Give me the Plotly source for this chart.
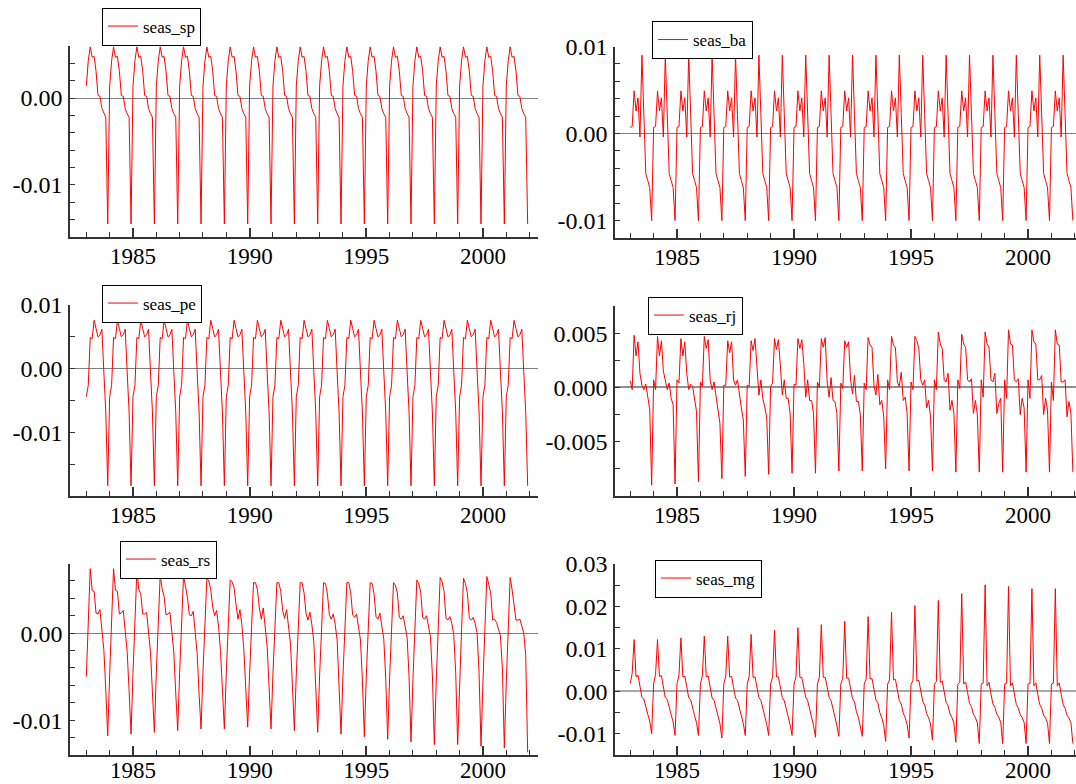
import plotly.graph_objects as go

# ---------------- data (seasonal factors, monthly 1983:1 - 2001:12) ----------------
years = list(range(1983, 2002))

# constant seasonal patterns (Jan..Dec)
sp_month = [0.0014, 0.0043, 0.0059, 0.0047, 0.0048, 0.0031, 0.0003, 0.0002, -0.0012, -0.0018, -0.0022, -0.0145]
ba_month = [0.0007, 0.0008, 0.0049, 0.0026, 0.0041, -0.0004, 0.0090, 0.0022, -0.0046, -0.0054, -0.0062, -0.0100]
pe_month = [-0.0044, -0.0026, 0.0049, 0.0047, 0.0076, 0.0063, 0.0050, 0.0053, 0.0062, -0.0005, -0.0068, -0.0184]

# evolving seasonal patterns, one row per year (Jan..Dec)
rj_rows = [
    [0.0006, -0.0002, 0.0048, 0.0029, 0.0042, 0.0013, 0.0002, -0.0002, 0.0003, -0.0009, -0.0020, -0.0090],
    [0.0007, -0.0002, 0.0047, 0.0029, 0.0043, 0.0015, 0.0005, -0.0002, 0.0004, -0.0010, -0.0016, -0.0089],
    [0.0007, 0.0004, 0.0045, 0.0029, 0.0042, 0.0013, -0.0002, 0.0003, 0.0001, -0.0011, -0.0022, -0.0087],
    [0.0005, 0.0001, 0.0047, 0.0036, 0.0044, 0.0007, -0.0002, 0.0005, -0.0008, -0.0021, -0.0033, -0.0084],
    [0.0002, 0.0002, 0.0043, 0.0032, 0.0042, 0.0007, 0.0002, 0.0007, -0.0008, -0.0019, -0.0030, -0.0082],
    [0.0002, 0.0001, 0.0043, 0.0034, 0.0045, 0.0016, -0.0007, 0.0007, -0.0010, -0.0018, -0.0028, -0.0080],
    [0.0001, 0.0004, 0.0045, 0.0035, 0.0044, 0.0020, -0.0007, 0.0007, -0.0010, -0.0010, -0.0024, -0.0079],
    [0.0003, 0.0002, 0.0045, 0.0036, 0.0044, 0.0022, -0.0009, 0.0007, -0.0012, -0.0012, -0.0024, -0.0079],
    [0.0005, 0.0000, 0.0045, 0.0037, 0.0046, 0.0005, -0.0009, 0.0009, -0.0012, -0.0013, -0.0024, -0.0077],
    [0.0004, -0.0001, 0.0043, 0.0037, 0.0042, 0.0007, -0.0006, 0.0011, -0.0013, -0.0013, -0.0025, -0.0077],
    [0.0004, -0.0002, 0.0046, 0.0039, 0.0037, 0.0002, -0.0007, 0.0012, -0.0016, -0.0012, -0.0027, -0.0075],
    [0.0007, -0.0002, 0.0047, 0.0039, 0.0037, 0.0005, 0.0001, 0.0014, -0.0012, -0.0009, -0.0024, -0.0077],
    [0.0005, -0.0002, 0.0047, 0.0043, 0.0036, 0.0007, 0.0002, 0.0007, -0.0019, -0.0012, -0.0027, -0.0077],
    [0.0007, -0.0002, 0.0051, 0.0040, 0.0036, 0.0007, 0.0005, 0.0013, -0.0021, -0.0012, -0.0024, -0.0078],
    [0.0007, -0.0001, 0.0049, 0.0040, 0.0037, 0.0007, 0.0005, 0.0008, -0.0024, -0.0012, -0.0025, -0.0078],
    [0.0007, -0.0009, 0.0051, 0.0040, 0.0037, 0.0007, 0.0005, 0.0013, -0.0024, -0.0015, -0.0010, -0.0078],
    [0.0007, -0.0010, 0.0053, 0.0040, 0.0039, 0.0007, 0.0005, 0.0008, -0.0025, -0.0010, -0.0019, -0.0078],
    [0.0007, -0.0010, 0.0053, 0.0042, 0.0040, 0.0007, 0.0007, 0.0011, -0.0025, -0.0010, -0.0021, -0.0078],
    [0.0005, -0.0012, 0.0053, 0.0040, 0.0039, 0.0005, 0.0005, 0.0007, -0.0027, -0.0013, -0.0024, -0.0078],
]

rs_rows = [
    [-0.0050, 0.0010, 0.0074, 0.0049, 0.0048, 0.0023, 0.0022, 0.0027, 0.0006, -0.0019, -0.0065, -0.0118],
    [-0.0047, 0.0012, 0.0074, 0.0049, 0.0048, 0.0022, 0.0023, 0.0026, 0.0005, -0.0021, -0.0066, -0.0116],
    [-0.0046, 0.0012, 0.0072, 0.0050, 0.0045, 0.0022, 0.0022, 0.0024, 0.0004, -0.0022, -0.0068, -0.0114],
    [-0.0045, 0.0011, 0.0067, 0.0051, 0.0042, 0.0021, 0.0022, 0.0024, 0.0003, -0.0022, -0.0069, -0.0112],
    [-0.0045, 0.0011, 0.0066, 0.0054, 0.0041, 0.0021, 0.0020, 0.0025, 0.0003, -0.0023, -0.0070, -0.0110],
    [-0.0044, 0.0010, 0.0063, 0.0060, 0.0050, 0.0030, 0.0020, 0.0026, 0.0008, -0.0020, -0.0068, -0.0110],
    [-0.0045, 0.0009, 0.0061, 0.0059, 0.0052, 0.0033, 0.0016, 0.0027, 0.0010, -0.0018, -0.0066, -0.0108],
    [-0.0045, 0.0009, 0.0058, 0.0058, 0.0050, 0.0029, 0.0016, 0.0029, 0.0008, -0.0015, -0.0062, -0.0110],
    [-0.0046, 0.0008, 0.0058, 0.0058, 0.0048, 0.0026, 0.0017, 0.0027, 0.0008, -0.0012, -0.0060, -0.0112],
    [-0.0047, 0.0008, 0.0058, 0.0058, 0.0046, 0.0023, 0.0015, 0.0024, 0.0010, -0.0010, -0.0058, -0.0114],
    [-0.0048, 0.0007, 0.0058, 0.0057, 0.0045, 0.0021, 0.0016, 0.0022, 0.0010, -0.0008, -0.0056, -0.0116],
    [-0.0049, 0.0007, 0.0058, 0.0058, 0.0046, 0.0021, 0.0018, 0.0022, 0.0008, -0.0008, -0.0054, -0.0119],
    [-0.0050, 0.0006, 0.0058, 0.0057, 0.0045, 0.0019, 0.0016, 0.0023, 0.0008, -0.0007, -0.0052, -0.0122],
    [-0.0051, 0.0006, 0.0058, 0.0055, 0.0046, 0.0018, 0.0016, 0.0020, 0.0009, -0.0005, -0.0050, -0.0125],
    [-0.0053, 0.0005, 0.0061, 0.0057, 0.0047, 0.0018, 0.0016, 0.0020, 0.0010, -0.0004, -0.0048, -0.0128],
    [-0.0054, 0.0005, 0.0064, 0.0059, 0.0048, 0.0017, 0.0015, 0.0019, 0.0011, -0.0002, -0.0046, -0.0128],
    [-0.0055, 0.0004, 0.0063, 0.0057, 0.0046, 0.0017, 0.0015, 0.0018, 0.0011, 0.0000, -0.0045, -0.0130],
    [-0.0056, 0.0004, 0.0065, 0.0056, 0.0046, 0.0015, 0.0016, 0.0012, 0.0005, -0.0003, -0.0040, -0.0132],
    [-0.0057, 0.0003, 0.0064, 0.0050, 0.0031, 0.0015, 0.0015, 0.0016, 0.0008, 0.0000, -0.0025, -0.0137],
]

mg_rows = [
    [0.0018, 0.0042, 0.0122, 0.0034, 0.0038, 0.0010, -0.0014, -0.0018, -0.0038, -0.0054, -0.0070, -0.0100],
    [0.0018, 0.0040, 0.0122, 0.0035, 0.0037, 0.0009, -0.0015, -0.0019, -0.0040, -0.0055, -0.0072, -0.0104],
    [0.0018, 0.0038, 0.0126, 0.0034, 0.0036, 0.0009, -0.0015, -0.0020, -0.0041, -0.0057, -0.0074, -0.0104],
    [0.0017, 0.0037, 0.0130, 0.0034, 0.0036, 0.0010, -0.0016, -0.0021, -0.0042, -0.0058, -0.0076, -0.0110],
    [0.0017, 0.0036, 0.0130, 0.0034, 0.0035, 0.0009, -0.0016, -0.0021, -0.0043, -0.0058, -0.0076, -0.0104],
    [0.0017, 0.0035, 0.0134, 0.0033, 0.0034, 0.0009, -0.0015, -0.0021, -0.0044, -0.0059, -0.0078, -0.0104],
    [0.0017, 0.0034, 0.0144, 0.0034, 0.0034, 0.0009, -0.0015, -0.0022, -0.0045, -0.0060, -0.0079, -0.0104],
    [0.0017, 0.0034, 0.0150, 0.0033, 0.0033, 0.0009, -0.0014, -0.0022, -0.0046, -0.0061, -0.0080, -0.0108],
    [0.0017, 0.0033, 0.0157, 0.0033, 0.0033, 0.0009, -0.0014, -0.0022, -0.0046, -0.0061, -0.0081, -0.0106],
    [0.0017, 0.0031, 0.0165, 0.0031, 0.0031, 0.0007, -0.0017, -0.0025, -0.0048, -0.0061, -0.0080, -0.0106],
    [0.0017, 0.0029, 0.0176, 0.0029, 0.0030, 0.0005, -0.0020, -0.0027, -0.0050, -0.0062, -0.0080, -0.0118],
    [0.0017, 0.0027, 0.0186, 0.0027, 0.0028, 0.0003, -0.0022, -0.0030, -0.0051, -0.0062, -0.0078, -0.0110],
    [0.0017, 0.0025, 0.0202, 0.0024, 0.0026, 0.0001, -0.0024, -0.0032, -0.0052, -0.0062, -0.0077, -0.0115],
    [0.0017, 0.0023, 0.0214, 0.0021, 0.0024, -0.0001, -0.0026, -0.0034, -0.0053, -0.0062, -0.0075, -0.0120],
    [0.0017, 0.0021, 0.0230, 0.0017, 0.0022, -0.0003, -0.0028, -0.0036, -0.0054, -0.0062, -0.0074, -0.0123],
    [0.0017, 0.0019, 0.0251, 0.0013, 0.0021, -0.0006, -0.0030, -0.0038, -0.0054, -0.0061, -0.0073, -0.0123],
    [0.0017, 0.0019, 0.0247, 0.0013, 0.0020, -0.0006, -0.0031, -0.0039, -0.0055, -0.0062, -0.0073, -0.0123],
    [0.0017, 0.0019, 0.0242, 0.0013, 0.0020, -0.0007, -0.0031, -0.0040, -0.0056, -0.0063, -0.0074, -0.0123],
    [0.0017, 0.0019, 0.0242, 0.0013, 0.0020, -0.0007, -0.0031, -0.0040, -0.0056, -0.0063, -0.0074, -0.0123],
]

series_names = ["seas_sp", "seas_ba", "seas_pe", "seas_rj", "seas_rs", "seas_mg"]

x_tick_vals = [1985, 1990, 1995, 2000]
x_tick_text = ["1985", "1990", "1995", "2000"]

y_tick_vals = [
    [-0.01, 0.0],
    [-0.01, 0.0, 0.01],
    [-0.01, 0.0, 0.01],
    [-0.005, 0.0, 0.005],
    [-0.01, 0.0],
    [-0.01, 0.0, 0.01, 0.02, 0.03],
]
y_tick_text = [
    ["-0.01", "0.00"],
    ["-0.01", "0.00", "0.01"],
    ["-0.01", "0.00", "0.01"],
    ["-0.005", "0.000", "0.005"],
    ["-0.01", "0.00"],
    ["-0.01", "0.00", "0.01", "0.02", "0.03"],
]

# ---------------- build series ----------------
t = [y + m / 12.0 for y in years for m in range(12)]
n_years = len(years)
values = [
    sp_month * n_years,
    ba_month * n_years,
    pe_month * n_years,
    [v for row in rj_rows for v in row],
    [v for row in rs_rows for v in row],
    [v for row in mg_rows for v in row],
]

# ---------------- layout geometry (pixels of the 1076x784 window) ----------------
W, H = 1076, 784


def fx(p):
    return p / W


def fy(p):
    return 1 - p / H


y_ranges = [[-0.016, 0.006], [-0.012, 0.010], [-0.020, 0.010],
            [-0.010, 0.0075], [-0.014, 0.008], [-0.015, 0.030]]
y_minor = [0.002, 0.002, 0.005, 0.0025, 0.002, 0.005]
zero_col = ["#808080", "#808080", "#808080", "#909090", "#808080", "#a8a8a8"]
zero_w = [1, 1, 1, 1.5, 1, 2]
x_px = [(70, 538), (615, 1076)]
x_rng = [[1982.30, 2002.36], [1982.35, 2002.05]]
y_px = [(46, 237), (46.5, 238), (305, 496), (306, 496), (563.5, 755), (564, 755)]
x_label_standoff = [-2, -2, -2, -2, -6, -6]
legend_pos = [(102, 26.5), (652, 40), (102, 303.5), (648, 315.5), (120, 559.5), (655, 578.5)]

FONT = "Liberation Serif"
AXC = "#333333"

fig = go.Figure()
layout = dict(
    template="none",
    width=W, height=H,
    margin=dict(l=0, r=0, t=0, b=0, pad=0, autoexpand=False),
    paper_bgcolor="white", plot_bgcolor="white",
    font=dict(family=FONT, color="black"),
    showlegend=True,
)

for i in range(6):
    k = i + 1
    xs = "x" if k == 1 else f"x{k}"
    ys = "y" if k == 1 else f"y{k}"
    lg = "legend" if k == 1 else f"legend{k}"
    fig.add_trace(go.Scatter(
        x=t, y=values[i], mode="lines", name=series_names[i],
        line=dict(color="#ff0000", width=1),
        xaxis=xs, yaxis=ys, legend=lg, showlegend=True,
    ))
    col = i % 2
    x0, x1 = x_px[col]
    yt, yb = y_px[i]
    xa = dict(
        domain=[fx(x0), min(1.0, fx(x1))], range=x_rng[col], anchor=ys,
        automargin=False,
        showline=True, linecolor=AXC, linewidth=1.5,
        showgrid=False, zeroline=False,
        tickmode="array", tickvals=x_tick_vals, ticktext=x_tick_text,
        ticks="inside", ticklen=9, tickwidth=1.5, tickcolor=AXC,
        tickfont=dict(family=FONT, size=23, color="black"),
        ticklabelstandoff=x_label_standoff[i],
        minor=dict(tickmode="linear", tick0=1983, dtick=1, ticks="inside",
                   ticklen=5, tickwidth=1, tickcolor=AXC, showgrid=False),
    )
    ya = dict(
        domain=[fy(yb), fy(yt)], range=y_ranges[i], anchor=xs,
        automargin=False,
        showline=True, linecolor=AXC, linewidth=1.5,
        showgrid=False,
        zeroline=True, zerolinecolor=zero_col[i], zerolinewidth=zero_w[i],
        tickmode="array", tickvals=y_tick_vals[i], ticktext=y_tick_text[i],
        ticks="inside", ticklen=5, tickwidth=1, tickcolor=AXC,
        tickfont=dict(family=FONT, size=24, color="black"),
        ticklabelstandoff=1,
        minor=dict(tickmode="linear", tick0=0, dtick=y_minor[i], ticks="inside",
                   ticklen=5, tickwidth=1, tickcolor=AXC, showgrid=False),
    )
    layout["xaxis" if k == 1 else f"xaxis{k}"] = xa
    layout["yaxis" if k == 1 else f"yaxis{k}"] = ya
    lx, ly = legend_pos[i]
    layout[lg] = dict(
        x=fx(lx), y=fy(ly), xanchor="left", yanchor="middle",
        bgcolor="white", bordercolor="black", borderwidth=1,
        font=dict(family=FONT, size=17, color="black"),
        itemwidth=30, tracegroupgap=0,
    )

fig.update_layout(**layout)
fig.write_html(
    "out.html",
    config={"displayModeBar": False},
    post_script="document.body.style.margin='0px'; document.body.style.overflow='hidden';",
)
